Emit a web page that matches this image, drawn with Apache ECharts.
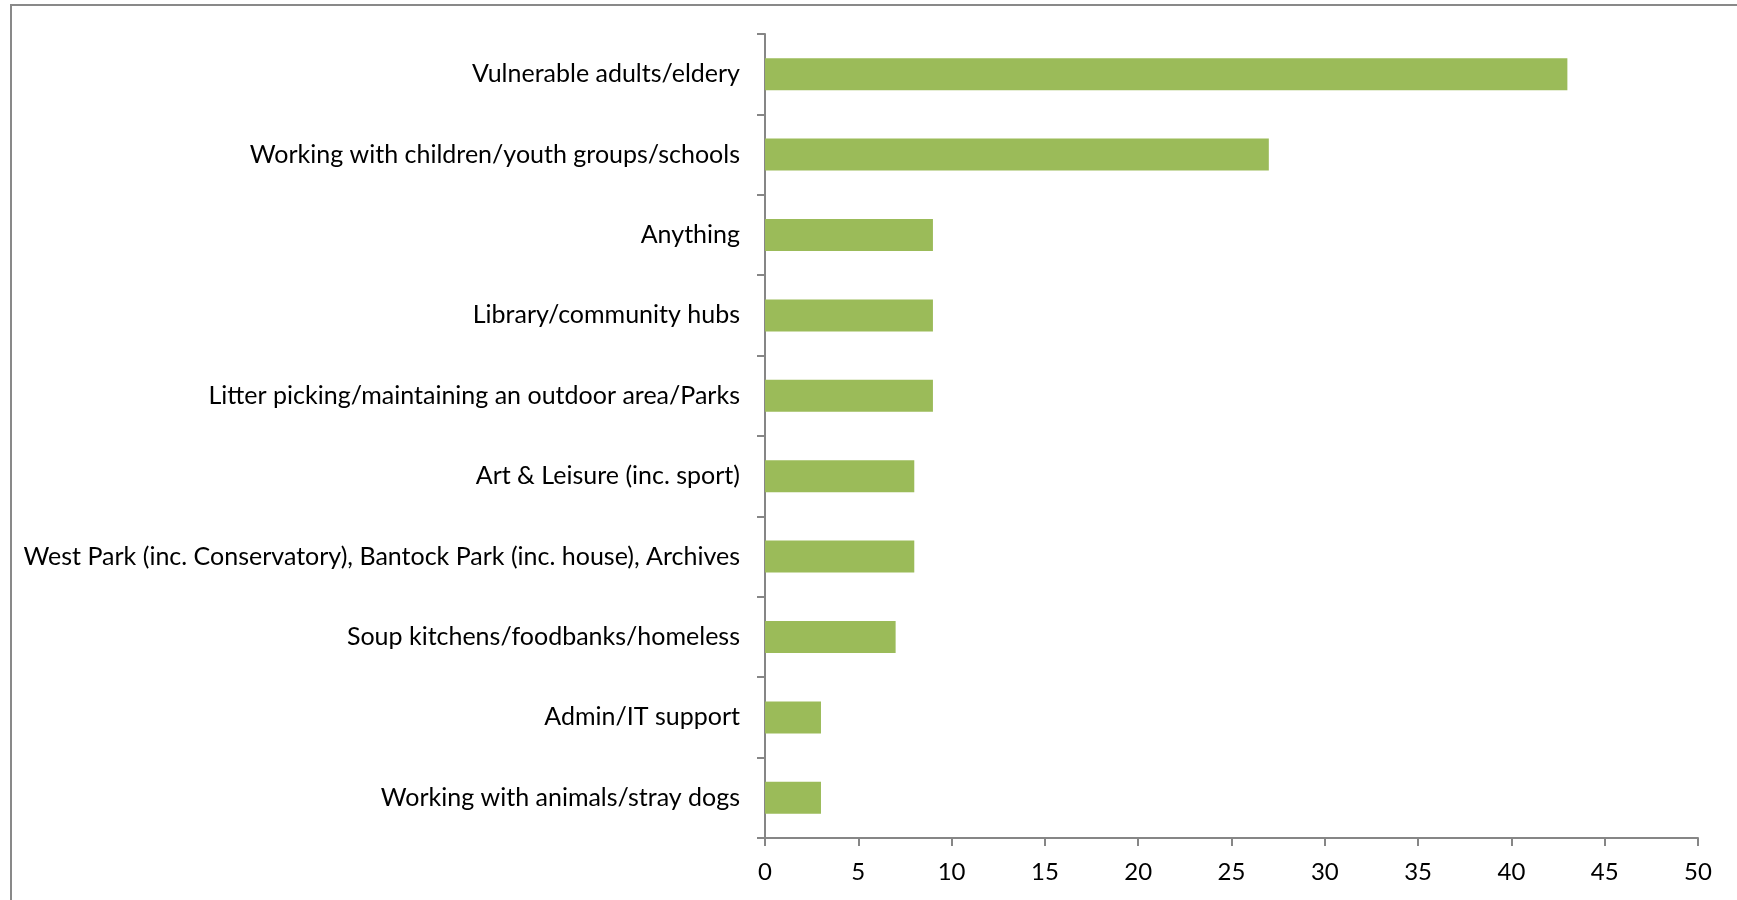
<!DOCTYPE html>
<html>
<head>
<meta charset="utf-8">
<title>Volunteering interests</title>
<script src="https://cdn.jsdelivr.net/npm/echarts@6/dist/echarts.min.js"></script>
<style>
  html, body { margin: 0; padding: 0; background: #ffffff; }
  #chart { width: 1737px; height: 900px; }
</style>
</head>
<body>
<div id="chart"></div>
<script>
// Areas of interest, listed top to bottom
const categories = [
  'Vulnerable adults/eldery',
  'Working with children/youth groups/schools',
  'Anything',
  'Library/community hubs',
  'Litter picking/maintaining an outdoor area/Parks',
  'Art & Leisure (inc. sport)',
  'West Park (inc. Conservatory), Bantock Park (inc. house), Archives',
  'Soup kitchens/foodbanks/homeless',
  'Admin/IT support',
  'Working with animals/stray dogs'
];

// Number of responses per area
const responses = [43, 27, 9, 9, 9, 8, 8, 7, 3, 3];

// Value axis range and step
const axisMin = 0;
const axisMax = 50;
const axisStep = 5;

const FONT = 'Lato, "Open Sans", sans-serif';
const AXIS_GREY = '#868686';

const chart = echarts.init(document.getElementById('chart'), null, { renderer: 'canvas' });

chart.setOption({
  backgroundColor: '#ffffff',
  animation: false,
  graphic: [{
    type: 'rect',
    shape: { x: 11, y: 5, width: 1740, height: 910 },
    style: { fill: 'none', stroke: '#898989', lineWidth: 2 },
    silent: true
  }],
  grid: { left: 765, right: 39, top: 34, bottom: 62, containLabel: false },
  xAxis: {
    type: 'value',
    min: axisMin,
    max: axisMax,
    interval: axisStep,
    splitLine: { show: false },
    axisLine: { show: true, lineStyle: { color: AXIS_GREY, width: 2 } },
    axisTick: { show: true, length: 8, lineStyle: { color: AXIS_GREY, width: 2 } },
    axisLabel: { color: '#000000', fontFamily: FONT, fontSize: 24, margin: 22 }
  },
  yAxis: {
    type: 'category',
    data: categories,
    inverse: true,
    axisLine: { show: true, lineStyle: { color: AXIS_GREY, width: 2 } },
    axisTick: { show: true, length: 8, lineStyle: { color: AXIS_GREY, width: 2 } },
    axisLabel: { color: '#000000', fontFamily: FONT, fontSize: 25, margin: 25 }
  },
  series: [{
    type: 'bar',
    data: responses,
    barWidth: 32,
    itemStyle: { color: '#9BBB59' },
    silent: true
  }]
});
</script>
</body>
</html>
